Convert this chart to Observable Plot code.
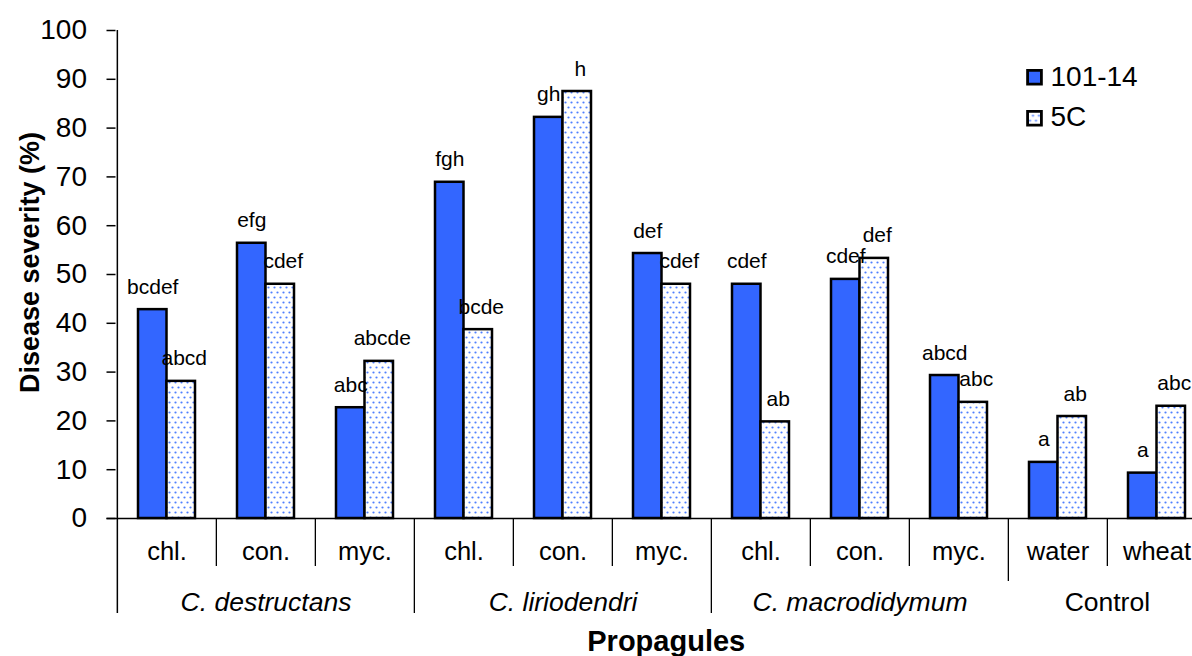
<!DOCTYPE html>
<html><head><meta charset="utf-8">
<script src="https://cdn.jsdelivr.net/npm/d3@7"></script>
<script src="https://cdn.jsdelivr.net/npm/@observablehq/plot@0.6"></script>
<style>
html,body{margin:0;padding:0;background:#fff;overflow:hidden;}
</style></head><body><div id="chart"></div><script>
// ---- data ----
const categoryLabels = ["chl.","con.","myc.","chl.","con.","myc.","chl.","con.","myc.","water","wheat"];
const categoryGroups = ["C. destructans","C. destructans","C. destructans",
  "C. liriodendri","C. liriodendri","C. liriodendri",
  "C. macrodidymum","C. macrodidymum","C. macrodidymum",
  "Control","Control"];
const series = ["101-14","5C"];
const values101 = [42.8, 56.4, 22.7, 68.9, 82.2, 54.3, 48.0, 49.0, 29.3, 11.5, 9.3];
const values5C  = [28.1, 48.0, 32.2, 38.7, 87.5, 48.0, 19.8, 53.3, 23.8, 20.9, 23.0];
const letters101 = ["bcdef","efg","abc","fgh","gh","def","cdef","cdef","abcd","a","a"];
const letters5C  = ["abcd","cdef","abcde","bcde","h","cdef","ab","def","abc","ab","abc"];
const yTicks = [0,10,20,30,40,50,60,70,80,90,100];
const yTitle = "Disease severity (%)";
const xTitle = "Propagules";

// ---- layout / style ----
const FONT = "'Liberation Sans', Arial, Helvetica, sans-serif";
const BLUE = "#3366ff";
const M_LEFT = 115.5, STEP = 99.3, M_TOP = 30, ZERO_Y = 518;
const PAD_INNER = 0.426;
const BW = STEP * (1 - PAD_INNER);
const idx = d3.range(categoryLabels.length);
const xRange = [M_LEFT, M_LEFT + STEP * idx.length];
const FRAME_H = ZERO_Y - M_TOP;

// separators derived from the grouping
const lastGroup = categoryGroups[categoryGroups.length - 1];
const seps = idx.slice(1).map(i => ({
  i,
  kind: categoryGroups[i] === categoryGroups[i-1] ? "sub" : (categoryGroups[i] === lastGroup ? "last" : "group")
}));

// group labels
const groupNames = Array.from(new Set(categoryGroups));
const groupInfo = groupNames.map(g => {
  const members = idx.filter(i => categoryGroups[i] === g);
  return {g, odd: members.length % 2 === 1, mid: members[Math.floor(members.length / 2)], italic: g !== "Control"};
});

const sepMark = (kind, depth) => Plot.ruleX(seps.filter(s => s.kind === kind),
  {x: "i", dx: -STEP/2, stroke: "black", strokeWidth: 1.3, insetTop: FRAME_H, insetBottom: -depth});

const groupMark = (filter, opts) => Plot.text(groupInfo.filter(filter),
  {x: "mid", text: "g", frameAnchor: "bottom", lineAnchor: "top", dy: 74, fontSize: 26.5, fill: "black", ...opts});

const marks = [
  // bars
  Plot.barY(idx, {x: i => i, y: i => values101[i], fill: BLUE, stroke: "black", strokeWidth: 2.5, insetRight: BW/2}),
  Plot.barY(idx, {x: i => i, y: i => values5C[i], fill: "url(#dots5c)", stroke: "black", strokeWidth: 2.5, insetLeft: BW/2}),
  // x axis line
  Plot.ruleY([0], {stroke: "black", strokeWidth: 1.5, insetLeft: -9}),
  // y axis line (extends down through category area)
  Plot.ruleX([idx[0]], {x: d => d, dx: -STEP/2, stroke: "black", strokeWidth: 1.5, insetBottom: -95}),
  // separators
  sepMark("sub", 48),
  sepMark("group", 95),
  sepMark("last", 63),
  // axes
  Plot.axisY({ticks: yTicks, tickSize: 9, tickPadding: 20, fontSize: 28, strokeWidth: 1.5, label: null, fill: "black"}),
  Plot.axisX({tickSize: 0, tickPadding: 23, fontSize: 25.5, tickFormat: i => categoryLabels[i], label: null, fill: "black"}),
  // group labels
  groupMark(d => d.odd && d.italic, {fontStyle: "italic"}),
  groupMark(d => !d.odd && d.italic, {fontStyle: "italic", dx: -STEP/2}),
  groupMark(d => d.odd && !d.italic, {}),
  groupMark(d => !d.odd && !d.italic, {dx: -STEP/2}),
  // letter labels
  Plot.text(idx, {x: i => i, y: i => values101[i], text: i => letters101[i], lineAnchor: "bottom", dy: -16, dx: -BW/4, fontSize: 21, fill: "black"}),
  Plot.text(idx, {x: i => i, y: i => values5C[i], text: i => letters5C[i], lineAnchor: "bottom", dy: -16, dx: BW/4 + 3, fontSize: 21, fill: "black"}),
  // titles
  Plot.text([yTitle], {text: d => d, frameAnchor: "left", textAnchor: "middle", lineAnchor: "middle", rotate: -90, dx: 30 - M_LEFT, dy: -12, fontSize: 27, fontWeight: "bold", fill: "black"}),
  Plot.text([xTitle], {text: d => d, frameAnchor: "bottom", textAnchor: "middle", lineAnchor: "top", dx: 12, dy: 112, fontSize: 29, fontWeight: "bold", fill: "black"}),
  // legend
  ...series.map((s, k) => Plot.dot([s], {frameAnchor: "top-left", dx: 1034 - M_LEFT, dy: 46.7 + k * 41, symbol: "square", r: 7.8, fill: k === 0 ? BLUE : "url(#dots5c)", stroke: "black", strokeWidth: 2.8})),
  ...series.map((s, k) => Plot.text([s], {text: d => d, frameAnchor: "top-left", textAnchor: "start", lineAnchor: "middle", dx: 1050 - M_LEFT, dy: 47 + k * 40, fontSize: 28, fill: "black"}))
];

const svg = Plot.plot({
  width: 1192, height: 656,
  marginLeft: M_LEFT, marginRight: 0, marginTop: M_TOP, marginBottom: 656 - ZERO_Y,
  style: {fontFamily: FONT, background: "white", color: "black", overflow: "visible"},
  x: {type: "band", domain: idx, range: xRange, paddingInner: PAD_INNER, paddingOuter: PAD_INNER/2},
  y: {domain: [0, 100]},
  marks
});

const defs = document.createElementNS("http://www.w3.org/2000/svg", "defs");
defs.innerHTML = `<pattern id="dots5c" patternUnits="userSpaceOnUse" width="6" height="10">
  <rect width="6" height="10" fill="white"/>
  <circle cx="1.5" cy="2.5" r="1.1" fill="#4f7fff"/>
  <circle cx="4.5" cy="7.5" r="1.1" fill="#4f7fff"/>
</pattern>`;
svg.prepend(defs);
document.getElementById("chart").appendChild(svg);
</script></body></html>
